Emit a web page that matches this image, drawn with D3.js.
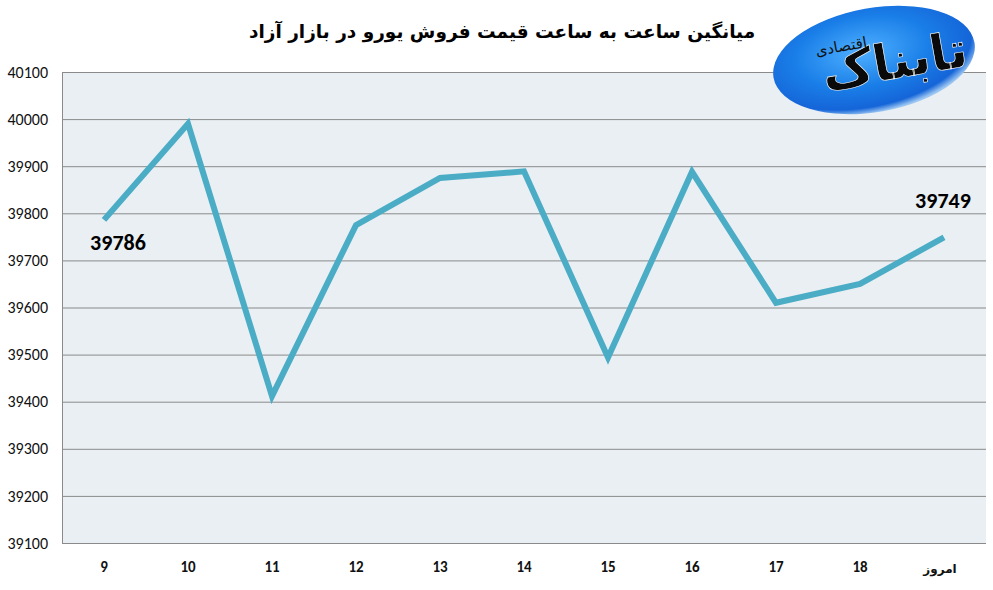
<!DOCTYPE html>
<html>
<head>
<meta charset="utf-8">
<script src="https://cdn.jsdelivr.net/npm/d3@7"></script>
<style>
body{margin:0;background:#fff;}
svg{display:block;}
</style>
</head>
<body>
<svg id="chart" width="993" height="590"></svg>
<script>
// داده ها
var hours = ["9","10","11","12","13","14","15","16","17","18","امروز"];
var prices = [39786, 39990, 39412, 39775, 39875, 39889, 39494, 39888, 39610, 39650, 39749];
var yTicks = [39100,39200,39300,39400,39500,39600,39700,39800,39900,40000,40100];
var titleText = "میانگین ساعت به ساعت قیمت فروش یورو در بازار آزاد";

var width = +d3.select("#chart").attr("width");
var height = +d3.select("#chart").attr("height");
var padding = {top:72, right:7, bottom:47, left:62};

var s = d3.select("#chart");

var x = d3.scaleBand()
	.domain(hours)
	.range([padding.left, width-padding.right]);
var y = d3.scaleLinear()
	.domain([39100, 40100])
	.range([height-padding.bottom, padding.top]);

// پس زمینه
s.append("rect")
	.attr("x", padding.left)
	.attr("y", padding.top)
	.attr("width", width-padding.left-padding.right)
	.attr("height", height-padding.top-padding.bottom)
	.attr("fill", "#e9eff3");

// خطوط شبکه
var yAxis = d3.axisLeft(y)
	.tickValues(yTicks)
	.tickSize(-(width-padding.left-padding.right))
	.tickPadding(14)
	.tickFormat(d3.format("d"));
var gy = s.append("g")
	.attr("transform", "translate("+padding.left+",0)")
	.call(yAxis);
gy.select(".domain").attr("stroke", "#8a8a8a");
gy.selectAll(".tick line").attr("stroke", "#8a8a8a");
gy.selectAll(".tick text")
	.attr("fill", "#111")
	.style("font-family", "Carlito, 'Liberation Sans', sans-serif")
	.style("font-size", "16px");

var xAxis = d3.axisBottom(x).tickSize(0).tickPadding(18);
var gx = s.append("g")
	.attr("transform", "translate(0,"+(height-padding.bottom)+")")
	.call(xAxis);
gx.select(".domain").remove();
gx.selectAll(".tick text")
	.attr("fill", "#111")
	.style("font-family", "Carlito, 'Liberation Sans', 'DejaVu Sans', sans-serif")
	.style("font-weight", "bold")
	.style("font-size", "15px");
gx.selectAll(".tick text")
	.filter(function(d){ return d=="امروز"; })
	.attr("dx", -4)
	.attr("dy", "1.0em")
	.style("font-family", "'DejaVu Sans', sans-serif")
	.style("font-size", "12px");

// خط قیمت
var line = d3.line()
	.x(function(d,i){ return x(hours[i])+x.bandwidth()/2; })
	.y(function(d){ return y(d); });
s.append("path")
	.datum(prices)
	.attr("d", line)
	.attr("fill", "none")
	.attr("stroke", "#4bacc6")
	.attr("stroke-width", 6)
	.attr("stroke-linejoin", "miter")
	.attr("stroke-linecap", "butt");

// برچسب اول و آخر
var labelIdx = [0, prices.length-1];
s.selectAll("text.vlabel")
	.data(labelIdx)
	.enter()
	.append("text")
	.attr("class", "vlabel")
	.attr("x", function(i){ return x(hours[i])+x.bandwidth()/2+(i==0?14:-1); })
	.attr("y", function(i){ return i==0 ? y(prices[i])+30 : y(prices[i])-29; })
	.style("text-anchor", "middle")
	.style("font-family", "Carlito, 'Liberation Sans', sans-serif")
	.style("font-weight", "bold")
	.style("font-size", "22px")
	.attr("fill", "#000")
	.text(function(i){ return prices[i]; });

// عنوان
s.append("text")
	.attr("x", 502)
	.attr("y", 38)
	.style("text-anchor", "middle")
	.style("font-family", "'DejaVu Sans', sans-serif")
	.style("font-weight", "bold")
	.style("font-size", "18.5px")
	.attr("direction", "rtl")
	.attr("fill", "#000")
	.text(titleText);

// لوگو
var defs = s.append("defs");
var grad = defs.append("radialGradient").attr("id", "logoGrad")
	.attr("cx", "45%").attr("cy", "40%").attr("r", "60%");
grad.append("stop").attr("offset", "0%").attr("stop-color", "#4fb0ff");
grad.append("stop").attr("offset", "55%").attr("stop-color", "#1a7fe8");
grad.append("stop").attr("offset", "90%").attr("stop-color", "#1565d8");
grad.append("stop").attr("offset", "100%").attr("stop-color", "#9cc6f2");
var logo = s.append("g").attr("transform", "translate(874,60) rotate(-10)");
logo.append("ellipse")
	.attr("rx", 102)
	.attr("ry", 52)
	.attr("fill", "url(#logoGrad)");
logo.append("text")
	.attr("x", 20)
	.attr("y", 22)
	.style("text-anchor", "middle")
	.style("font-family", "'DejaVu Sans', sans-serif")
	.style("font-weight", "bold")
	.style("font-size", "50px")
	.attr("fill", "#0a0a0a")
	.attr("stroke", "#fff")
	.attr("stroke-width", 0.6)
	.text("تابناک");
logo.append("text")
	.attr("x", -30)
	.attr("y", -14)
	.style("text-anchor", "middle")
	.style("font-family", "'DejaVu Sans', sans-serif")
	.style("font-size", "15px")
	.attr("fill", "#111")
	.text("اقتصادی");
</script>
</body>
</html>
